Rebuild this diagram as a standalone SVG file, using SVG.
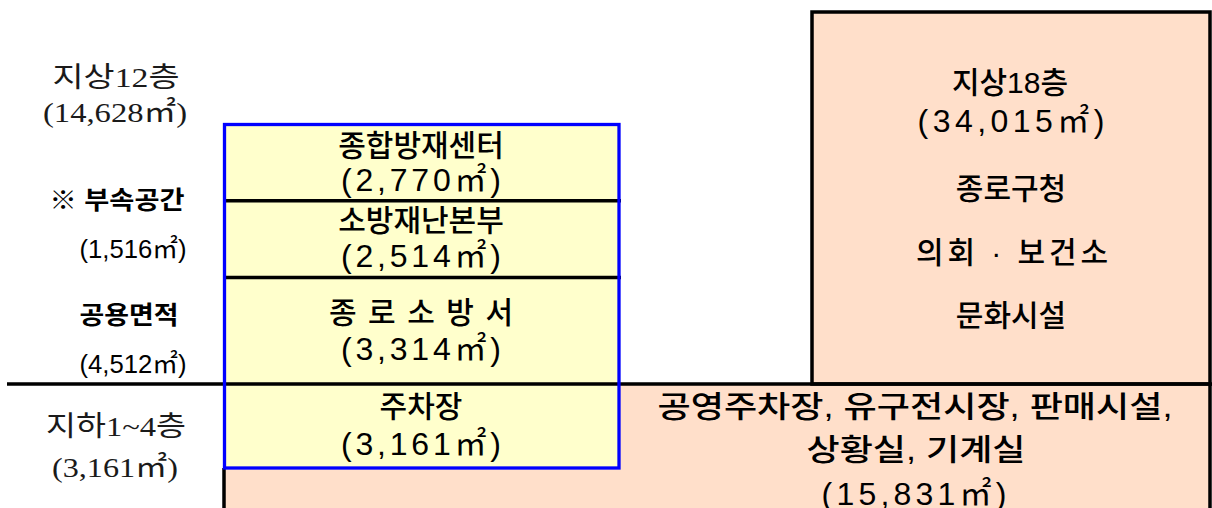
<svg xmlns="http://www.w3.org/2000/svg" width="1212" height="508" viewBox="0 0 1212 508">
<style>
.s{font-family:"Liberation Sans","Noto Sans CJK KR",sans-serif;fill:#000;text-anchor:middle}
.k{font-size:30px;font-weight:500}
.d{font-size:32px}
.b{font-size:25px;font-weight:bold}
.n{font-size:26px}
.sf{font-family:"Liberation Serif","Noto Sans CJK KR",serif;fill:#1a1a1a;text-anchor:middle;font-size:28px}
.ln{stroke:#000;stroke-width:3.5;fill:none}
.pe{fill:#FFDFCA}
</style>
<rect width="1212" height="508" fill="#fff"/>
<g id="lower-block">
<rect class="pe" x="224" y="384" width="986" height="130"/>
<path class="ln" d="M224,468 V510 M1210,384 V510"/>
<text class="s k" x="915" y="417" textLength="515" lengthAdjust="spacingAndGlyphs">공영주차장, 유구전시장, 판매시설,</text>
<text class="s k" x="916" y="460" textLength="219" lengthAdjust="spacingAndGlyphs">상황실, 기계실</text>
<text class="s d" x="914" y="505" textLength="185" lengthAdjust="spacing">(15,831㎡)</text>
</g>
<g id="right-block">
<rect class="pe" x="812" y="12" width="398" height="372" stroke="#000" stroke-width="3.5"/>
<text class="s k" x="1010" y="93">지상18층</text>
<text class="s d" x="1011" y="132" textLength="187" lengthAdjust="spacing">(34,015㎡)</text>
<text class="s k" x="1011" y="199">종로구청</text>
<text class="s k" x="1012" y="263" textLength="192" lengthAdjust="spacing">의회 · 보건소</text>
<text class="s k" x="1011" y="326">문화시설</text>
</g>
<g id="yellow-block">
<rect x="224.5" y="124.5" width="394.5" height="343.5" fill="#FFFFCC"/>
<g id="node-center">
<text class="s k" x="421" y="156">종합방재센터</text>
<text class="s d" x="421" y="191" textLength="160" lengthAdjust="spacing">(2,770㎡)</text>
</g>
<g id="node-hq">
<text class="s k" x="421" y="231">소방재난본부</text>
<text class="s d" x="421" y="267" textLength="160" lengthAdjust="spacing">(2,514㎡)</text>
</g>
<g id="node-station">
<text class="s k" x="421" y="323" textLength="184" lengthAdjust="spacing">종 로 소 방 서</text>
<text class="s d" x="421" y="360" textLength="160" lengthAdjust="spacing">(3,314㎡)</text>
</g>
<g id="node-parking">
<text class="s k" x="421" y="417">주차장</text>
<text class="s d" x="421" y="455" textLength="160" lengthAdjust="spacing">(3,161㎡)</text>
</g>
</g>
<g id="connectors">
<path class="ln" d="M224,200.8 H621 M224,277.5 H621 M7,384 H1212"/>
</g>
<rect id="blue-border" x="224.5" y="124.5" width="394.5" height="343.5" fill="none" stroke="#0000FF" stroke-width="3.3"/>
<g id="left-labels">
<text class="sf" x="116" y="87" textLength="127" lengthAdjust="spacingAndGlyphs">지상12층</text>
<text class="sf" x="115" y="122" textLength="144" lengthAdjust="spacingAndGlyphs">(14,628㎡)</text>
<text class="s b" x="117" y="209" textLength="135" lengthAdjust="spacingAndGlyphs">※ 부속공간</text>
<text class="s n" x="133" y="258" textLength="107" lengthAdjust="spacingAndGlyphs">(1,516㎡)</text>
<text class="s b" x="129" y="324" textLength="99" lengthAdjust="spacingAndGlyphs">공용면적</text>
<text class="s n" x="133" y="373" textLength="107" lengthAdjust="spacingAndGlyphs">(4,512㎡)</text>
<text class="sf" x="116" y="436" textLength="140" lengthAdjust="spacingAndGlyphs">지하1~4층</text>
<text class="sf" x="115" y="477" textLength="126" lengthAdjust="spacingAndGlyphs">(3,161㎡)</text>
</g>
</svg>
